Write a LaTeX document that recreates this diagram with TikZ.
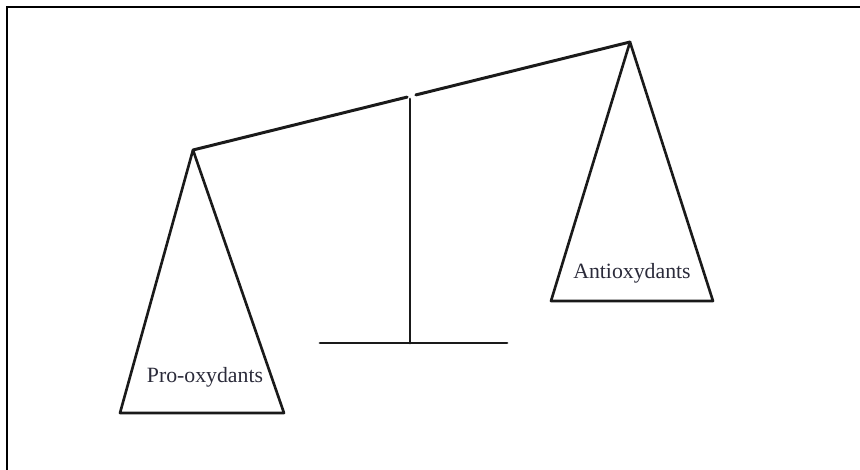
\documentclass[tikz,border=0pt]{standalone}
\usepackage{fontspec}
\setmainfont{Liberation Serif}
\usetikzlibrary{positioning,calc}
\definecolor{ink}{HTML}{1A1A1A}
\definecolor{txt}{HTML}{2B2B3A}
\tikzset{
  beam/.style ={line width=1.7pt,ink,line cap=round},
  pan/.style  ={line width=1.5pt,ink,line join=round},
  frame/.style={line width=1.7pt,black},
  plbl/.style ={font=\fontsize{12.4}{14}\selectfont,text=txt,inner sep=0pt},
}
\begin{document}
\begin{tikzpicture}[x=0.02cm,y=-0.02cm]
\useasboundingbox (0,0) rectangle (860,470);
% frame (top and left only)
\draw[frame] (7,470) -- (7,7) -- (860,7);
% pivot points
\coordinate (lapex) at (193,150);
\coordinate (rapex) at (630,42);
\coordinate (ltip) at ($(lapex)!0.49!(rapex)$);
\coordinate (rtip) at ($(lapex)!0.51!(rapex)$);
\coordinate (post) at (410,99);
\coordinate (foot) at (410,343);
% beam, post and base
\draw[beam] (lapex) -- (ltip);
\draw[beam] (rtip) -- (rapex);
\draw[beam] (post) -- (foot);
\draw[beam] (320,343) -- (507,343);
% left pan
\draw[pan] (lapex) -- (284,413) -- (120,413) -- cycle;
\node[plbl] (pro) at (205,377) {Pro-oxydants};
% right pan
\draw[pan] (rapex) -- (713,301) -- (551,301) -- cycle;
\node[plbl] (anti) at (632,273) {Antioxydants};
\end{tikzpicture}
\end{document}
